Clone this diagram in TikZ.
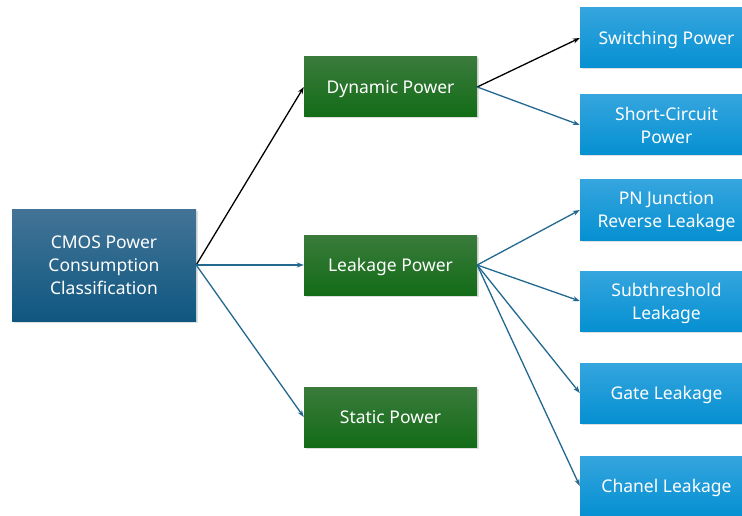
\documentclass[tikz,border=0pt]{standalone}
\usepackage{fontspec}
\setmainfont{Noto Sans}
\usetikzlibrary{arrows.meta,shadows}

\definecolor{rootTop}{HTML}{437497}
\definecolor{rootBot}{HTML}{0F5780}
\definecolor{midTop}{HTML}{3A7B3C}
\definecolor{midBot}{HTML}{136C17}
\definecolor{leafTop}{HTML}{35A5DE}
\definecolor{leafBot}{HTML}{0590D2}
\definecolor{linkBlue}{HTML}{23688F}

\tikzset{
	box/.style = {rectangle, text = white, align = center, font = \fontsize{17.5}{23}\selectfont,
		inner sep = 0pt, text depth = 0pt,
		drop shadow = {shadow xshift = 1.5pt, shadow yshift = -1.5pt, opacity = 0.25}},
	rootbox/.style = {box, top color = rootTop, bottom color = rootBot,
		minimum width = 184pt, minimum height = 112pt},
	midbox/.style = {box, top color = midTop, bottom color = midBot,
		minimum width = 173pt, minimum height = 60pt},
	leafbox/.style = {box, top color = leafTop, bottom color = leafBot,
		minimum width = 173pt, minimum height = 60pt},
	link/.style = {draw = linkBlue, line width = 1.3pt, -{Stealth[length = 7pt, width = 5pt]}},
	darklink/.style = {link, draw = black}
}

\begin{document}
\begin{tikzpicture}[x = 1pt, y = -1pt]

	% page frame, boxes on the right run past it
	\clip (0, 0) rectangle (742, 516);
	\fill[white] (0, 0) rectangle (742, 516);

	% x positions of the three columns
	\def\rootX{104}
	\def\midX{390.5}
	\def\leafX{666.5}

	% root
	\node[rootbox] (cmos) at (\rootX, 265) {CMOS Power\\Consumption\\Classification};

	% second level
	\node[midbox] (dynamic) at (\midX, 87) {Dynamic Power};
	\node[midbox] (leakage) at (\midX, 265) {Leakage Power};
	\node[midbox] (static) at (\midX, 417) {Static Power};

	% leaves
	\node[leafbox] (switching) at (\leafX, 38) {Switching Power};
	\node[leafbox] (short) at (\leafX, 125) {Short-Circuit\\Power};
	\node[leafbox] (pn) at (\leafX, 210) {PN Junction\\Reverse Leakage};
	\node[leafbox] (subth) at (\leafX, 301) {Subthreshold\\Leakage};
	\node[leafbox] (gate) at (\leafX, 393) {Gate Leakage};
	\node[leafbox] (chanel) at (\leafX, 486) {Chanel Leakage};

	% connectors
	\draw[darklink] (cmos.east) -- (dynamic.west);
	\draw[link] (cmos.east) -- (leakage.west);
	\draw[link] (cmos.east) -- (static.west);

	\draw[darklink] (dynamic.east) -- (switching.west);
	\draw[link] (dynamic.east) -- (short.west);

	\foreach \leaf in {pn, subth, gate, chanel}
		\draw[link] (leakage.east) -- (\leaf.west);

\end{tikzpicture}
\end{document}
